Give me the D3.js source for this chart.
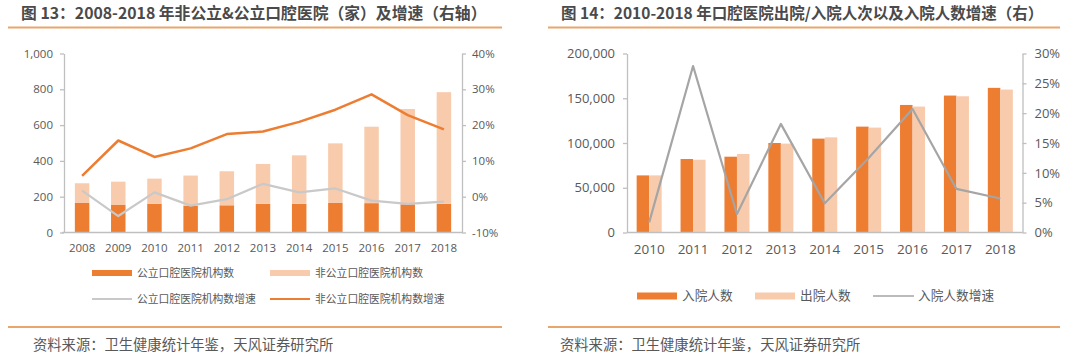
<!DOCTYPE html>
<html><head><meta charset="utf-8">
<script src="https://cdn.jsdelivr.net/npm/d3@7"></script>
<style>
html,body{margin:0;padding:0;background:#fff;}
svg{display:block;}
</style></head>
<body>
<svg id="c" width="1080" height="359"></svg>
<script>
// ---- Chart 13 data ----
const years13 = ["2008","2009","2010","2011","2012","2013","2014","2015","2016","2017","2018"];
const publicHosp = [167,156,160,150,152,160,160,165,164,158,160];
const nonPublicHosp = [108,128,141,168,190,223,271,333,427,532,624];
const publicGrowth = [1.7,-5.4,1.2,-2.5,-0.7,3.6,1.2,2.3,-1.1,-2.0,-1.4];
const nonPublicGrowth = [5.8,15.7,11.1,13.5,17.5,18.2,20.9,24.3,28.6,22.8,18.8];
const leftTicks13 = [0,200,400,600,800,1000];
const rightTicks13 = [-10,0,10,20,30,40];

// ---- Chart 14 data ----
const years14 = ["2010","2011","2012","2013","2014","2015","2016","2017","2018"];
const admissions = [63800,82100,84700,100000,104900,118300,142500,153000,161600];
const discharges = [63800,81300,87700,99300,106300,117200,140700,152200,159700];
const admissionGrowth = [1.7,27.9,3.1,18.2,4.9,12.5,20.7,7.3,5.7];
const leftTicks14 = [0,50000,100000,150000,200000];
const rightTicks14 = [0,5,10,15,20,25,30];

const C_DARK = "#ED7D31", C_LIGHT = "#F8CBAD", C_GRAY1 = "#C9C9C9", C_GRAY2 = "#A5A5A5";
const AXIS = "#BFBFBF", TXT = "#595959";
const FONT_NUM = "'Open Sans', 'Noto Sans', sans-serif";
const FONT_CJK = "'Noto Sans CJK SC', 'Noto Sans', sans-serif";

const svg = d3.select("#c");

function header(x0, x1, title, srcOffset, titleSize){
  svg.append("text").attr("x", x0 + 13).attr("y", 19)
    .attr("font-family", FONT_CJK).attr("font-weight", "bold")
    .attr("font-size", titleSize).attr("fill", "#4a4a4a").text(title);
  svg.append("line").attr("x1", x0).attr("x2", x1).attr("y1", 27.5).attr("y2", 27.5)
    .attr("stroke", "#E8A66C").attr("stroke-width", 2);
  svg.append("line").attr("x1", x0).attr("x2", x1).attr("y1", 327).attr("y2", 327)
    .attr("stroke", "#E8A66C").attr("stroke-width", 2);
  svg.append("text").attr("x", x0 + srcOffset).attr("y", 350)
    .attr("font-family", FONT_CJK).attr("font-size", 14.3).attr("fill", TXT)
    .text("资料来源：卫生健康统计年鉴，天风证券研究所");
}

function styleAxis(g, fs){
  g.select(".domain").attr("stroke", AXIS).attr("stroke-width", 1.3);
  g.selectAll(".tick line").attr("stroke", AXIS).attr("stroke-width", 1.3);
  g.selectAll("text").attr("fill", TXT).attr("font-family", FONT_NUM).attr("font-size", fs);
}

// ================= Chart 13 =================
header(8, 502, "图 13：2008-2018 年非公立&公立口腔医院（家）及增速（右轴）", 25, 15.8);
{
  const L = 64, R = 462, T = 53.5, B = 232.5;
  const x = d3.scaleBand().domain(years13).range([L, R]).paddingInner(0.6).paddingOuter(0.3);
  const y = d3.scaleLinear().domain([0, 1000]).range([B, T]);
  const y2 = d3.scaleLinear().domain([-10, 40]).range([B, T]);
  const g = svg.append("g");
  g.selectAll(".pub").data(years13).join("rect")
    .attr("x", d => x(d)).attr("width", x.bandwidth())
    .attr("y", (d,i) => y(publicHosp[i])).attr("height", (d,i) => y(0) - y(publicHosp[i]))
    .attr("fill", C_DARK);
  g.selectAll(".npub").data(years13).join("rect")
    .attr("x", d => x(d)).attr("width", x.bandwidth())
    .attr("y", (d,i) => y(publicHosp[i] + nonPublicHosp[i])).attr("height", (d,i) => y(publicHosp[i]) - y(publicHosp[i] + nonPublicHosp[i]))
    .attr("fill", C_LIGHT);
  const cx = d => x(d) + x.bandwidth()/2;
  const line = arr => d3.line().x(d => cx(d)).y((d,i) => y2(arr[i]));
  g.append("path").datum(years13).attr("d", line(publicGrowth)).attr("fill","none")
    .attr("stroke", C_GRAY1).attr("stroke-width", 2.2).attr("stroke-linejoin","round");
  g.append("path").datum(years13).attr("d", line(nonPublicGrowth)).attr("fill","none")
    .attr("stroke", C_DARK).attr("stroke-width", 2.5).attr("stroke-linejoin","round");
  const ax = svg.append("g").attr("transform", `translate(${L},0)`)
    .call(d3.axisLeft(y).tickValues(leftTicks13).tickFormat(d3.format(",")).tickSize(4).tickPadding(7).tickSizeOuter(0));
  styleAxis(ax, 11.5);
  const ax2 = svg.append("g").attr("transform", `translate(${R},0)`)
    .call(d3.axisRight(y2).tickValues(rightTicks13).tickFormat(d => d + "%").tickSize(4).tickPadding(6).tickSizeOuter(0));
  styleAxis(ax2, 11.5);
  const axb = svg.append("g").attr("transform", `translate(0,${B})`)
    .call(d3.axisBottom(x).tickSize(0).tickPadding(11));
  styleAxis(axb, 11.5);
  axb.select(".domain").attr("d", `M${L-2},0H${R}`);
  const lg = [
    {t:"公立口腔医院机构数", type:"rect", c:C_DARK, x:92, y:273},
    {t:"非公立口腔医院机构数", type:"rect", c:C_LIGHT, x:270, y:273},
    {t:"公立口腔医院机构数增速", type:"line", c:C_GRAY1, x:92, y:299},
    {t:"非公立口腔医院机构数增速", type:"line", c:C_DARK, x:270, y:299}
  ];
  lg.forEach(d => {
    if (d.type === "rect") svg.append("rect").attr("x", d.x).attr("y", d.y-3).attr("width", 40).attr("height", 6).attr("fill", d.c);
    else svg.append("line").attr("x1", d.x).attr("x2", d.x+40).attr("y1", d.y).attr("y2", d.y).attr("stroke", d.c).attr("stroke-width", 2);
    svg.append("text").attr("x", d.x+45).attr("y", d.y).attr("dy", "0.35em")
      .attr("font-family", FONT_CJK).attr("font-size", 10.8).attr("fill", TXT).text(d.t);
  });
}

// ================= Chart 14 =================
header(548, 1060, "图 14：2010-2018 年口腔医院出院/入院人次以及入院人数增速（右）", 12, 15.5);
{
  const L = 627, R = 1022.5, T = 53.5, B = 232.5;
  const x = d3.scaleBand().domain(years14).range([L, R]).paddingInner(0.43).paddingOuter(0.22);
  const xs = d3.scaleBand().domain(["in","out"]).range([0, x.bandwidth()]);
  const y = d3.scaleLinear().domain([0, 200000]).range([B, T]);
  const y2 = d3.scaleLinear().domain([0, 30]).range([B, T]);
  const g = svg.append("g");
  g.selectAll(".adm").data(years14).join("rect")
    .attr("x", d => x(d) + xs("in")).attr("width", xs.bandwidth())
    .attr("y", (d,i) => y(admissions[i])).attr("height", (d,i) => y(0) - y(admissions[i]))
    .attr("fill", C_DARK);
  g.selectAll(".dis").data(years14).join("rect")
    .attr("x", d => x(d) + xs("out")).attr("width", xs.bandwidth())
    .attr("y", (d,i) => y(discharges[i])).attr("height", (d,i) => y(0) - y(discharges[i]))
    .attr("fill", C_LIGHT);
  const cx = d => x(d) + x.bandwidth()/2;
  g.append("path").datum(years14)
    .attr("d", d3.line().x(d => cx(d)).y((d,i) => y2(admissionGrowth[i])))
    .attr("fill","none").attr("stroke", C_GRAY2).attr("stroke-width", 2.2).attr("stroke-linejoin","round");
  const ax = svg.append("g").attr("transform", `translate(${L},0)`)
    .call(d3.axisLeft(y).tickValues(leftTicks14).tickFormat(d3.format(",")).tickSize(4).tickPadding(8).tickSizeOuter(0));
  styleAxis(ax, 13);
  const ax2 = svg.append("g").attr("transform", `translate(${R},0)`)
    .call(d3.axisRight(y2).tickValues(rightTicks14).tickFormat(d => d + "%").tickSize(4).tickPadding(8).tickSizeOuter(0));
  styleAxis(ax2, 13);
  const axb = svg.append("g").attr("transform", `translate(0,${B})`)
    .call(d3.axisBottom(x).tickSize(0).tickPadding(12));
  styleAxis(axb, 13.5);
  axb.select(".domain").attr("d", `M${L},0H${R}`);
  const lg = [
    {t:"入院人数", type:"rect", c:C_DARK, x:637},
    {t:"出院人数", type:"rect", c:C_LIGHT, x:755},
    {t:"入院人数增速", type:"line", c:C_GRAY2, x:873}
  ];
  const ly = 296;
  lg.forEach(d => {
    if (d.type === "rect") svg.append("rect").attr("x", d.x).attr("y", ly-3.5).attr("width", 40).attr("height", 7).attr("fill", d.c);
    else svg.append("line").attr("x1", d.x).attr("x2", d.x+41).attr("y1", ly).attr("y2", ly).attr("stroke", d.c).attr("stroke-width", 1.5);
    svg.append("text").attr("x", d.x+45).attr("y", ly).attr("dy", "0.35em")
      .attr("font-family", FONT_CJK).attr("font-size", 12.7).attr("fill", TXT).text(d.t);
  });
}
</script>
</body></html>
